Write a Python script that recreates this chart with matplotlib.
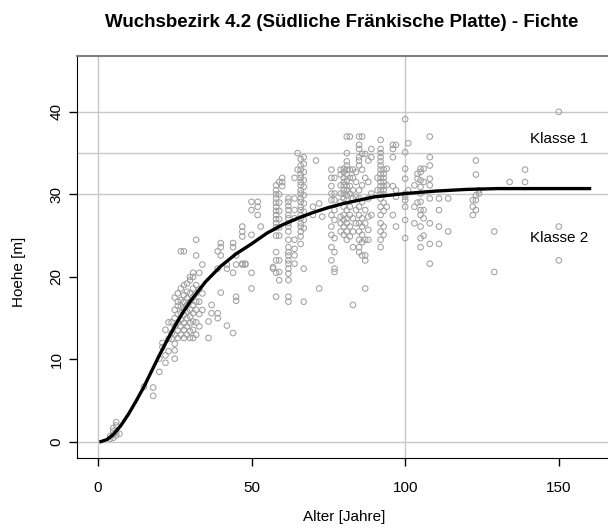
import numpy as np
import matplotlib
matplotlib.use("Agg")
import matplotlib.pyplot as plt

plt.rcParams["font.family"] = ["Liberation Sans", "DejaVu Sans"]

# Messpunkte: eine Zeile je Alterssaeule (Alter, Hoehen)
alter = (
    [4] * 2 + [5] * 4 + [6] * 4 + [7] * 1 + [15] * 1 + [18] * 2 + [20] * 2 + [21] * 2
    + [22] * 3 + [23] * 3 + [24] * 3 + [25] * 8 + [26] * 7 + [27] * 8 + [28] * 9
    + [29] * 8 + [30] * 9 + [31] * 9 + [32] * 8 + [33] * 5 + [34] * 3 + [36] * 2
    + [37] * 2 + [39] * 4 + [40] * 4 + [42] * 3 + [44] * 4 + [45] * 4 + [47] * 5
    + [48] * 2 + [50] * 5 + [52] * 3 + [53] * 1 + [57] * 2 + [58] * 16 + [59] * 10
    + [60] * 3 + [62] * 20 + [64] * 8 + [65] * 2 + [66] * 20 + [67] * 12 + [70] * 2
    + [71] * 1 + [72] * 2 + [73] * 1 + [76] * 10 + [77] * 9 + [79] * 8 + [80] * 13
    + [81] * 16 + [82] * 9 + [83] * 8 + [84] * 5 + [85] * 15 + [86] * 10 + [87] * 8
    + [88] * 6 + [89] * 4 + [91] * 2 + [92] * 20 + [93] * 11 + [94] * 3 + [96] * 5
    + [97] * 4 + [100] * 10 + [101] * 2 + [103] * 3 + [104] * 3 + [105] * 11
    + [106] * 5 + [108] * 9 + [111] * 4 + [114] * 2 + [122] * 3 + [123] * 5
    + [124] * 2 + [129] * 2 + [134] * 1 + [139] * 2 + [150] * 3
)
hoehe = [
    0.4, 0.7,
    0.5, 0.9, 1.3, 1.7,
    0.8, 1.2, 2.0, 2.4,
    1.0,
    6.7,
    5.6, 6.6,
    8.5, 10.1,
    11.5, 12.0,
    9.6, 10.5, 13.6,
    11.0, 12.5, 14.5,
    12.5, 13.2, 14.5,
    10.1, 11.1, 11.9, 13.0, 14.0, 15.0, 16.0, 17.5,
    12.6, 13.5, 14.5, 15.5, 16.5, 17.0, 18.0,
    13.0, 14.0, 14.8, 15.6, 16.4, 17.2, 18.6, 23.1,
    12.6, 13.6, 14.4, 15.4, 16.2, 17.0, 17.8, 19.0, 23.1,
    13.0, 14.0, 15.0, 15.8, 16.6, 17.4, 18.2, 19.2,
    12.6, 13.4, 14.4, 15.2, 16.0, 17.0, 18.0, 19.6, 20.0,
    12.6, 13.6, 14.6, 15.6, 16.6, 17.6, 18.6, 20.5, 20.0,
    13.0, 14.5, 16.0, 17.0, 18.0, 19.0, 22.6, 24.5,
    14.0, 15.5, 17.0, 18.5, 20.5,
    16.0, 18.0, 21.5,
    12.6, 14.6,
    15.6, 16.6,
    15.0, 15.6, 21.0, 23.1,
    18.1, 22.6, 23.6, 24.1,
    14.1, 21.0, 21.5,
    13.2, 20.5, 23.6, 24.1,
    17.1, 17.6, 21.5, 22.6,
    21.5, 21.6, 24.9, 25.5, 26.1,
    21.5, 21.6,
    18.6, 20.5, 25.1, 28.1, 29.1,
    27.5, 28.5, 29.1,
    26.1,
    21.0, 21.2,
    31.1, 30.5, 30.0, 29.5, 29.0, 28.5, 28.0, 27.5, 27.0, 26.5, 26.0, 25.0, 23.0, 22.0, 20.5, 17.6,
    31.5, 30.0, 29.0, 28.0, 27.0, 26.0, 25.0, 22.0, 20.6, 19.6,
    32.0, 31.5, 31.0,
    29.5, 29.1, 28.6, 28.1, 27.5, 27.1, 26.5, 26.1, 25.5, 24.5, 23.6, 23.0, 22.6, 22.0, 21.6, 21.0, 20.4, 19.6, 17.6, 17.0,
    32.0, 29.5, 28.1, 27.1, 24.5, 23.4, 22.6, 21.6,
    35.0, 33.0,
    34.3, 33.5, 33.0, 32.4, 32.0, 31.5, 31.1, 30.5, 30.1, 29.5, 29.1, 28.5, 28.1, 27.5, 27.1, 26.5, 26.1, 25.5, 24.9, 24.0,
    34.5, 33.7, 32.7, 31.7, 30.9, 29.9, 28.9, 27.9, 26.9, 25.9, 21.0, 17.0,
    28.5, 27.5,
    34.1,
    28.9, 18.6,
    27.3,
    33.0, 32.0, 31.0, 30.1, 29.3, 27.5, 26.1, 25.1, 23.6, 22.0,
    32.0, 30.1, 29.3, 28.1, 26.9, 24.7, 23.0, 21.0, 20.6,
    33.0, 32.4, 31.1, 30.1, 29.1, 27.3, 26.5, 25.5,
    33.1, 32.7, 32.0, 31.5, 31.1, 30.5, 30.1, 29.5, 28.5, 27.5, 26.9, 26.1, 25.1,
    37.0, 35.0, 34.0, 33.5, 33.0, 32.4, 31.7, 31.0, 30.5, 29.9, 29.3, 28.1, 27.1, 26.5, 25.5, 24.5,
    37.0, 33.0, 32.0, 31.0, 30.1, 28.5, 27.5, 26.1, 24.9,
    33.0, 32.0, 30.5, 29.5, 27.1, 25.5, 23.6, 16.6,
    32.7, 31.5, 29.7, 28.1, 26.5,
    37.0, 36.0, 35.5, 34.5, 34.1, 33.5, 30.5, 29.5, 28.5, 27.5, 26.5, 25.5, 24.5, 23.6, 23.0,
    37.0, 34.9, 33.0, 31.1, 29.1, 27.1, 26.1, 25.1, 24.2, 22.6,
    34.9, 32.0, 28.1, 26.5, 24.5, 22.6, 22.0, 18.6,
    34.1, 31.5, 29.5, 27.3, 25.7, 24.5,
    35.5, 34.5, 30.1, 27.5,
    32.0, 30.5,
    36.6, 35.5, 35.0, 34.5, 34.0, 33.5, 33.0, 32.5, 32.0, 31.5, 31.0, 30.5, 30.0, 29.5, 28.5, 27.5, 26.5, 25.5, 24.5, 23.6,
    33.0, 32.5, 32.0, 31.5, 31.0, 30.5, 30.0, 29.0, 28.0, 26.1, 25.1,
    33.1, 31.1, 28.5,
    36.0, 35.5, 34.5, 31.0, 27.5,
    36.0, 30.5, 29.7, 26.1,
    39.1, 35.1, 33.1, 31.9, 30.1, 29.7, 29.3, 28.5, 26.9, 24.7,
    36.2, 30.5,
    31.1, 28.5, 26.5,
    32.5, 31.9, 29.0,
    33.1, 32.7, 31.7, 30.9, 30.1, 29.1, 28.1, 27.5, 26.1, 24.7, 23.6,
    33.1, 31.5, 28.1, 27.1, 25.0,
    37.0, 34.5, 33.5, 31.9, 31.1, 29.5, 26.5, 24.0, 21.6,
    29.5, 28.1, 26.1, 24.0,
    29.5, 25.5,
    28.5, 27.5, 29.3,
    34.1, 32.4, 29.9, 29.3, 28.1,
    30.5, 30.1,
    25.5, 20.6,
    31.5,
    33.0, 31.5,
    40.0, 26.1, 22.0,
]

# Ausgleichskurve
kurve_alter = [1, 3, 5, 7.5, 10, 12.5, 15, 17.5, 20, 22.5, 25, 27.5, 30, 35, 40, 45,
               50, 55, 60, 65, 70, 75, 80, 90, 100, 110, 120, 130, 140, 150, 160]
kurve_hoehe = [0.05, 0.3, 0.9, 2.0, 3.4, 5.0, 6.7, 8.6, 10.5, 12.3, 14.0, 15.6, 17.0,
               19.4, 21.3, 22.8, 24.0, 25.3, 26.3, 27.1, 27.8, 28.4, 28.9, 29.7, 30.1,
               30.4, 30.6, 30.7, 30.7, 30.7, 30.7]

h_linien = [0, 30, 35, 40]
v_linien = [0, 100]
x_ticks = [0, 50, 100, 150]
y_ticks = [0, 10, 20, 30, 40]

fig = plt.figure(figsize=(6.08, 5.32), dpi=100)
ax = fig.add_axes([0.1271, 0.1397, 0.8729, 0.7556])

for h in h_linien:
    ax.axhline(h, color="#c8c8c8", lw=1, zorder=1)
for v in v_linien:
    ax.axvline(v, color="#c8c8c8", lw=1, zorder=1)

ax.scatter(alter, hoehe, s=16, facecolors="none", edgecolors="#a0a0a0", linewidths=0.75, zorder=2)
ax.plot(kurve_alter, kurve_hoehe, color="black", lw=2.4, zorder=3)

ax.text(150, 36.7, "Klasse 1", ha="center", va="center", fontsize=11)
ax.text(150, 24.7, "Klasse 2", ha="center", va="center", fontsize=11)

ax.set_xlim(-6.7, 166)
ax.set_ylim(-1.9, 46.8)
ax.set_xticks(x_ticks)
ax.set_yticks(y_ticks)
ax.tick_params(axis="both", direction="out", length=6, width=1, labelsize=11)
ax.tick_params(axis="x", pad=11)
ax.tick_params(axis="y", pad=4)
for lab in ax.get_yticklabels():
    lab.set_rotation(90)
    lab.set_va("center")

ax.spines["right"].set_visible(False)
ax.spines["top"].set_color("#808080")
ax.spines["top"].set_linewidth(1.5)

ax.set_xlabel("Alter [Jahre]", fontsize=11)
ax.set_ylabel("Hoehe [m]", fontsize=11)
ax.xaxis.set_label_coords(0.5025, -0.13)
ax.yaxis.set_label_coords(-0.097, 0.462)

fig.text(0.5625, 0.957, "Wuchsbezirk 4.2 (Südliche Fränkische Platte) - Fichte",
         ha="center", va="center", fontsize=13.5, fontweight="bold")

fig.savefig("out.png", dpi=100)
